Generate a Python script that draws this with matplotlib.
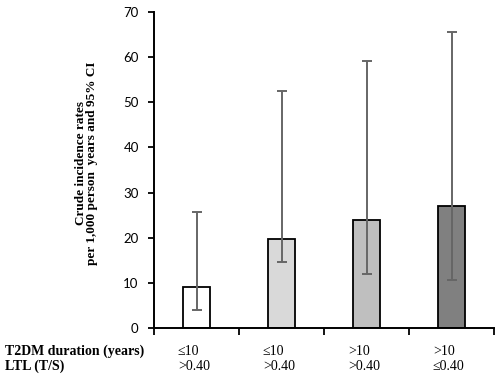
import matplotlib
matplotlib.use('Agg')
from matplotlib import pyplot as plt
import matplotlib.transforms as mtransforms

# values
duration = ['\u226410', '\u226410', '>10', '>10']
ltl = ['>0.40', '>0.40', '>0.40', '\u22640.40']
rates = [9.0, 19.7, 23.9, 27.0]
ci_low = [3.9, 14.6, 11.9, 10.6]
ci_high = [25.6, 52.6, 59.2, 65.6]
bar_colors = ['#ffffff', '#d9d9d9', '#bfbfbf', '#808080']

fig = plt.figure(figsize=(5.0, 3.79), dpi=100)
ax = fig.add_axes([0.308, 0.1346, 0.68, 0.8337])

xs = list(range(len(rates)))
yerr = [[r - l for r, l in zip(rates, ci_low)], [h - r for r, h in zip(rates, ci_high)]]
ax.bar(xs, rates, width=0.32, color=bar_colors, edgecolor='black', linewidth=1.3, zorder=2)
ax.errorbar(xs, rates, yerr=yerr, fmt='none', ecolor='#666666', elinewidth=1.4,
            capsize=3.6, capthick=1.4, zorder=3)

ax.set_xlim(-0.5, 3.5)
ax.set_ylim(0, 70)
ax.set_yticks(range(0, 71, 10))
ax.set_xticks([-0.5, 0.5, 1.5, 2.5, 3.5])
ax.set_xticklabels([])
ax.tick_params(axis='y', direction='out', length=4, width=1.3, pad=7, labelsize=9.5)
ax.tick_params(axis='x', direction='out', length=5, width=1.3)
for lab in ax.get_yticklabels():
    lab.set_family('Lato')
for s in ['top', 'right']:
    ax.spines[s].set_visible(False)
for s in ['left', 'bottom']:
    ax.spines[s].set_linewidth(1.4)

# y label
fig.text(0.173, 0.57, 'Crude incidence rates\nper 1,000 person  years and 95% CI',
         rotation=90, ha='center', va='center', fontsize=9.5, fontweight='bold',
         family='Liberation Serif', linespacing=0.95)

# category rows under the axis
trans = mtransforms.blended_transform_factory(ax.transData, fig.transFigure)
fig.text(0.01, 1 - 351.5 / 379, 'T2DM duration (years)', ha='left', va='center',
         fontsize=10, fontweight='bold', family='Liberation Serif')
fig.text(0.01, 1 - 366 / 379, 'LTL (T/S)', ha='left', va='center',
         fontsize=10, fontweight='bold', family='Liberation Serif')
for i in xs:
    fig.text(i - 0.22, 1 - 351.5 / 379, duration[i], transform=trans, ha='left', va='center',
             fontsize=10, family='Liberation Serif')
    fig.text(i - 0.22, 1 - 366 / 379, ltl[i], transform=trans, ha='left', va='center',
             fontsize=10, family='Liberation Serif')

fig.savefig('out.png', dpi=100)
